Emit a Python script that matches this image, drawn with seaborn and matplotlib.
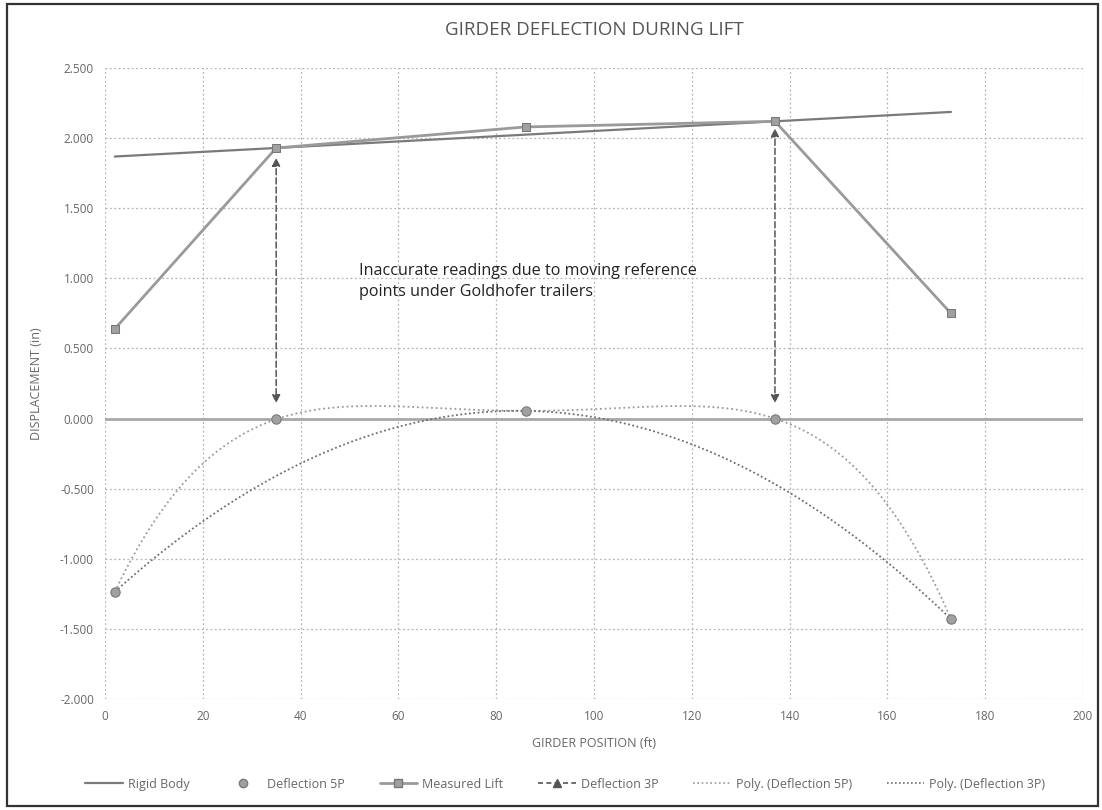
import numpy as np
import pandas as pd
import matplotlib
matplotlib.use("Agg")
import matplotlib.pyplot as plt
from matplotlib.lines import Line2D
from matplotlib.patches import Rectangle
import seaborn as sns

# Survey stations along the girder (ft)
position = [2, 35, 86, 137, 173]
measured_lift = [0.64, 1.93, 2.08, 2.12, 0.75]
rigid_body = [1.869, 1.930, 2.025, 2.120, 2.187]
deflection_5p = [-1.235, -0.005, 0.055, 0.000, -1.430]
position_3p = [2, 86, 173]
deflection_3p = [-1.235, 0.055, -1.430]

x_ticks = list(range(0, 201, 20))
y_ticks = [-2.0, -1.5, -1.0, -0.5, 0.0, 0.5, 1.0, 1.5, 2.0, 2.5]

sns.set_theme(style="white")
plt.rcParams["font.family"] = ["Open Sans", "DejaVu Sans"]

fig = plt.figure(figsize=(11.02, 8.10), dpi=100)
ax = fig.add_axes([0.0953, 0.137, 0.8875, 0.779])

grid_c = "#b5b5b5"
for xv in x_ticks:
    ax.axvline(xv, color=grid_c, lw=0.9, ls=(0, (1.5, 2)), zorder=0)
for yv in y_ticks:
    ax.axhline(yv, color=grid_c, lw=0.9, ls=(0, (1.5, 2)), zorder=0)
ax.axhline(0, color="#a8a8a8", lw=2.0, zorder=1)

df = pd.DataFrame({"pos": position, "lift": measured_lift,
                   "rigid": rigid_body, "d5": deflection_5p})
df3 = pd.DataFrame({"pos": position_3p, "d3": deflection_3p})

# Polynomial trendlines through the deflection readings
xs = np.linspace(min(position), max(position), 300)
p5 = np.polyval(np.polyfit(position, deflection_5p, 4), xs)
p3 = np.polyval(np.polyfit(position_3p, deflection_3p, 2), xs)
ax.plot(xs, p5, color="#9a9a9a", lw=1.3, ls=(0, (1, 1.6)), zorder=2)
ax.plot(xs, p3, color="#6e6e6e", lw=1.3, ls=(0, (1, 1.4)), zorder=2)

sns.lineplot(data=df, x="pos", y="rigid", ax=ax, color="#7a7a7a", lw=1.6,
             zorder=3, legend=False)
sns.lineplot(data=df, x="pos", y="lift", ax=ax, color="#9a9a9a", lw=2.0,
             marker="s", markersize=6, markerfacecolor="#a0a0a0",
             markeredgecolor="#777777", zorder=4, legend=False)
sns.scatterplot(data=df3, x="pos", y="d3", ax=ax, marker="^", s=35,
                color="#555555", zorder=4, legend=False)
sns.scatterplot(data=df, x="pos", y="d5", ax=ax, marker="o", s=45,
                color="#a0a0a0", edgecolor="#7a7a7a", linewidth=0.8,
                zorder=5, legend=False)

# Double-headed arrows between lift readings and zero line
arrow_kw = dict(arrowstyle="<|-|>", color="#555555", lw=1.1, ls=(0, (4, 2)),
                mutation_scale=12, shrinkA=0, shrinkB=0)
ax.annotate("", xy=(35, 0.11), xytext=(35, 1.86), arrowprops=arrow_kw)
ax.annotate("", xy=(137, 0.11), xytext=(137, 2.07), arrowprops=arrow_kw)

ax.text(52, 0.98, "Inaccurate readings due to moving reference\npoints under Goldhofer trailers",
        fontsize=11.6, color="#222222", va="center", ha="left", linespacing=1.4)

ax.set_xlim(0, 200)
ax.set_ylim(-2.0, 2.5)
ax.set_xticks(x_ticks)
ax.set_yticks(y_ticks)
ax.set_yticklabels([f"{v:.3f}" for v in y_ticks])
ax.tick_params(axis="both", length=0, labelsize=8.5, labelcolor="#666666", pad=8)
for s in ax.spines.values():
    s.set_visible(False)

ax.set_xlabel("GIRDER POSITION (ft)", fontsize=9, color="#666666", labelpad=10)
ax.set_ylabel("DISPLACEMENT (in)", fontsize=9, color="#666666", labelpad=12)
ax.set_title("GIRDER DEFLECTION DURING LIFT", fontsize=13.5, color="#555555", pad=24)

handles = [
    Line2D([], [], color="#7a7a7a", lw=1.6),
    Line2D([], [], ls="none", marker="o", markersize=6, markerfacecolor="#a0a0a0",
           markeredgecolor="#7a7a7a"),
    Line2D([], [], color="#9a9a9a", lw=2.0, marker="s", markersize=6,
           markerfacecolor="#a0a0a0", markeredgecolor="#777777"),
    Line2D([], [], color="#555555", lw=1.2, ls=(0, (3, 2)), marker="^", markersize=6),
    Line2D([], [], color="#9a9a9a", lw=1.2, ls=(0, (1, 1.6))),
    Line2D([], [], color="#6e6e6e", lw=1.2, ls=(0, (1, 1.4))),
]
labels = ["Rigid Body", "Deflection 5P", "Measured Lift", "Deflection 3P",
          "Poly. (Deflection 5P)", "Poly. (Deflection 3P)"]
fig.legend(handles, labels, loc="center", bbox_to_anchor=(0.513, 0.032), ncol=6,
           frameon=False, fontsize=9, labelcolor="#666666", handlelength=3.0,
           columnspacing=2.8, handletextpad=0.4)

fig.add_artist(Rectangle((0.006, 0.005), 0.99, 0.99, transform=fig.transFigure,
                         fill=False, edgecolor="#333333", lw=1.6))

fig.savefig("out.png", dpi=100)
